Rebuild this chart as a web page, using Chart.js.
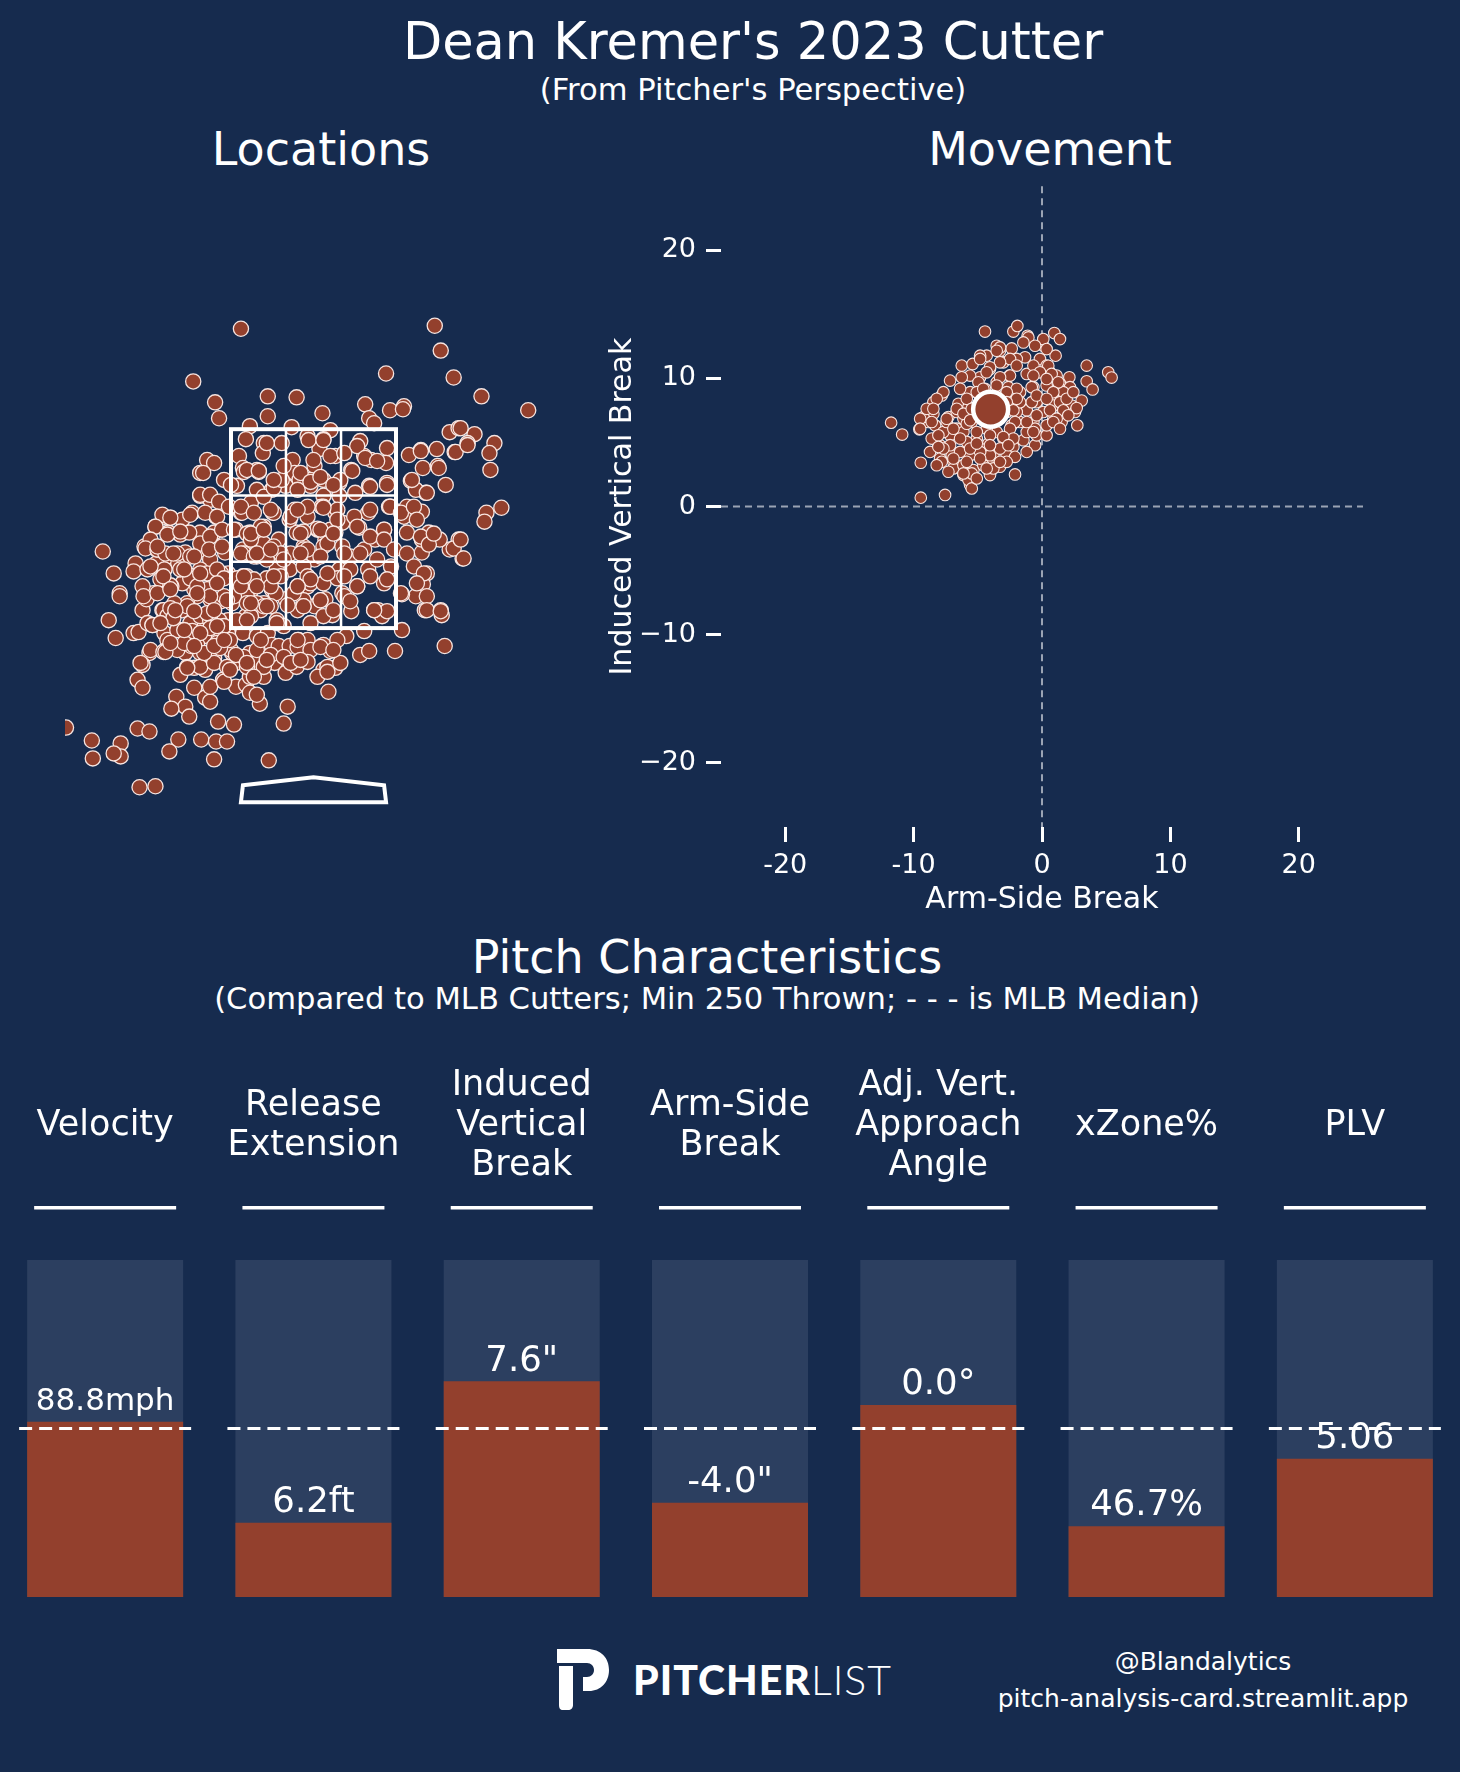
<!DOCTYPE html>
<html>
<head>
<meta charset="utf-8">
<script src="https://cdn.jsdelivr.net/npm/chart.js@4.4.0/dist/chart.umd.min.js"></script>
<style>
  html, body { margin: 0; padding: 0; background: #162b4e; }
  body { width: 1460px; height: 1772px; position: relative; overflow: hidden; font-family: "DejaVu Sans", sans-serif; color: #fff; }
  .t { position: absolute; transform: translate(-50%, -50%); white-space: nowrap; line-height: 1; }
  canvas { position: absolute; }
</style>
</head>
<body>
<div class="t" style="left:753px;top:41px;font-size:51px">Dean Kremer's 2023 Cutter</div>
<div class="t" style="left:753px;top:90px;font-size:30.6px">(From Pitcher's Perspective)</div>
<div class="t" style="left:321px;top:149px;font-size:46px">Locations</div>
<div class="t" style="left:1050px;top:149px;font-size:46px">Movement</div>
<div class="t" style="left:707px;top:957px;font-size:46px">Pitch Characteristics</div>
<div class="t" style="left:707px;top:999px;font-size:30.6px">(Compared to MLB Cutters; Min 250 Thrown; - - - is MLB Median)</div>

<canvas id="loc" width="497" height="547" style="left:65px;top:280px"></canvas>
<canvas id="move" width="800" height="770" style="left:600px;top:160px"></canvas>
<canvas id="bars" width="1460" height="580" style="left:0;top:1040px"></canvas>

<svg style="position:absolute;left:554px;top:1648px" width="56" height="62" viewBox="0 0 56 62">
  <path fill="#fff" d="M3,1 H33 C47,1 55,10 55,22 C55,34 47,43 35,43 H29 V29 H33 C37,29 40,26 40,22 C40,18 37,15 33,15 H3 Z"/>
  <path fill="#fff" d="M5,18 H19 V57 C19,60 17,62 14,62 H9 C6,62 5,60 5,57 Z"/>
</svg>
<div style="position:absolute;left:633px;top:1679px;transform:translateY(-50%);font-family:Lato,'Open Sans',sans-serif;font-size:41px;letter-spacing:1px;line-height:1;white-space:nowrap"><span style="font-weight:900">PITCHER</span><span style="font-weight:300">LIST</span></div>
<div class="t" style="left:1203px;top:1661px;font-size:25px">@Blandalytics</div>
<div class="t" style="left:1203px;top:1698px;font-size:25px">pitch-analysis-card.streamlit.app</div>

<script>
// pitch locations, feet (x: horizontal from pitcher's view, y: height)
const locPitches = [
  [-0.73,4.51],[1.22,4.54],[1.28,4.29],[0.73,4.06],[1.41,4.02],[-1.21,3.98],[1.69,3.83],[2.16,3.69],[-0.99,3.77],[-0.95,3.61],
  [-0.46,3.83],[-0.17,3.82],[-0.46,3.63],[0.09,3.66],[0.52,3.75],[0.56,3.61],[0.61,3.56],[0.77,3.69],[0.91,3.73],[0.90,3.70],
  [-0.64,3.53],[-0.22,3.52],[0.17,3.49],
  [1.37,3.47],[1.46,3.51],[1.62,3.45],[1.55,3.36],[1.82,3.36],[1.77,3.26],[1.78,3.09],[1.42,3.27],[1.24,3.30],[1.08,3.29],
  [1.10,3.11],[1.25,3.13],[1.33,2.94],[0.96,3.24],[0.98,2.98],[1.13,2.86],[1.03,2.89],[0.94,2.72],[1.09,2.67],[1.74,2.66],
  [1.89,2.71],[1.72,2.57],[1.46,2.39],[1.37,2.29],[1.50,2.20],[1.16,2.46],[1.27,2.39],[1.09,2.26],[1.14,2.05],[1.10,1.94],
  [1.03,1.82],[0.89,1.84],[1.12,1.68],[1.28,1.68],[1.29,1.63],[0.89,1.48],[0.82,1.27],[1.32,1.32],[0.91,2.62],[0.78,2.72],
  [0.94,2.46],[1.09,2.39],
  [-2.12,2.27],[-2.01,2.05],[-1.95,1.85],[-1.95,1.82],[-2.06,1.58],[-1.99,1.40],[-1.81,1.45],[-1.76,1.46],[-1.72,1.68],
  [-1.67,1.55],[-1.61,1.85],[-1.59,2.52],[-1.70,2.32],[-1.50,2.62],[-1.44,2.61],[-1.46,2.46],[-1.34,2.44],[-1.47,2.22],
  [-1.58,2.15],[-1.79,2.15],[-1.81,2.07],[-1.68,1.79],[-1.52,1.68],[-1.43,1.62],[-1.32,1.68],[-1.22,2.66],[-1.14,2.83],
  [-1.14,3.06],[-1.07,3.19],[-1.00,3.16],[-1.13,2.29],[-1.20,1.89],[-1.00,1.95],[-1.07,1.89],[-1.34,1.48],[-1.22,1.45],
  [-1.50,1.45],[-1.47,1.38],[-1.65,1.25],[-1.72,1.13],[-1.77,0.98],[-1.72,0.90],[-1.50,1.27],[-1.29,1.25],[-1.23,1.32],
  [-1.14,1.25],[-1.04,1.45],[-0.93,1.42],[-1.34,1.03],[-1.20,1.10],[-1.09,1.08],[-1.00,1.20],[-0.91,0.98],[-0.78,0.91],
  [-0.68,0.93],[-0.60,1.11],[-0.54,0.74],[-0.64,0.85],[-1.20,0.90],[-1.09,0.80],[-1.04,0.76],[-1.38,0.81],[-1.29,0.71],
  [-1.43,0.69],[-1.25,0.61],[-0.26,0.71],[-0.30,0.54],[-0.96,0.56],[-0.80,0.53],[-1.77,0.49],[-1.65,0.46],[-1.36,0.38],
  [-1.13,0.38],[-0.98,0.36],[-0.87,0.36],[-1.45,0.26],[-2.23,0.37],[-2.22,0.19],[-1.94,0.34],[-1.94,0.21],[-2.01,0.24],
  [-1.00,0.18],[-0.45,0.17],[-1.75,-0.10],[-1.59,-0.09],[-2.49,0.50],
  [-0.86,1.45],[-0.71,1.45],[-0.57,1.42],[-0.46,1.45],[-0.42,1.33],[-0.35,1.32],[-0.24,1.32],[-0.14,1.18],[-0.15,1.38],
  [-0.06,1.38],[0.08,1.32],[0.17,1.27],[0.10,1.08],[0.22,1.10],[0.04,1.01],[0.15,0.86],[0.47,1.23],[0.56,1.27],[0.33,1.42],
  [0.51,1.47],[-0.82,1.25],[-0.78,1.15],[-0.64,1.25],[-0.57,1.15],[-0.39,1.15],[-0.28,1.05],[-0.50,1.01],[-0.17,1.11],
  [-0.64,1.01],[-0.98,1.38],[-0.93,1.32],
  [-0.75,3.23],[-0.68,3.40],[-0.71,3.11],[-0.57,3.09],[-0.50,3.36],[-0.51,3.26],[-0.32,3.36],[-0.21,3.19],[-0.19,3.06],
  [-0.06,3.43],[0.01,3.13],[0.10,3.40],[0.06,3.30],[-0.03,2.93],[-0.14,2.99],[-0.28,2.93],[-0.42,2.89],[-0.57,2.89],
  [-0.77,2.93],[0.22,3.23],[0.26,2.96],[0.38,3.09],[0.47,3.38],[0.51,3.23],[0.58,3.19],[0.56,2.93],[0.74,3.31],[0.73,3.16],
  [0.74,2.96],[0.42,2.86],[0.26,2.83],[0.10,2.83],[0.44,3.33],
  [-0.73,2.66],[-0.64,2.46],[-0.50,2.52],[-0.41,2.66],[-0.57,2.36],[-0.71,2.29],[-0.50,2.22],[-0.28,2.22],[-0.17,2.46],
  [-0.10,2.32],[0.04,2.49],[0.08,2.72],[0.22,2.66],[0.29,2.56],[0.46,2.51],[0.55,2.66],[0.62,2.39],[0.71,2.49],[0.76,2.72],
  [0.51,2.29],[0.37,2.22],[0.01,2.19],[-0.06,2.62],[-0.19,2.69],[0.12,2.39],[0.22,2.46],[0.29,2.32],[-0.24,2.59],[-0.35,2.39],
  [-0.78,2.49],[-0.64,2.69],
  [-0.71,2.02],[-0.64,1.85],[-0.59,1.94],[-0.42,1.89],[-0.44,1.73],[-0.68,1.62],[-0.53,1.68],[-0.28,1.79],[-0.24,2.09],
  [-0.10,2.12],[-0.06,1.92],[0.01,1.72],[-0.03,1.95],[0.12,1.79],[0.19,1.63],[0.29,1.85],[0.38,1.67],[0.44,1.92],[0.55,2.09],
  [0.65,1.68],[0.71,1.95],[0.78,2.12],[0.69,1.62],[0.15,2.05],[0.26,2.09],[0.37,2.09],[-0.82,1.75],[-0.86,2.05],[-0.86,1.58],
  [-1.04,2.79],[-0.98,2.62],[-1.14,2.46],[-1.00,2.46],[-0.89,2.26],[-1.04,2.19],[-1.14,2.09],[-0.93,2.05],[-1.04,1.79],
  [-0.93,1.77],[-1.11,1.58],[-0.95,1.58],[-1.22,2.02],[-1.29,2.26],[-1.36,2.15],[-1.32,1.95],[-1.43,1.92],[-1.52,1.99],
  [-1.58,2.29],[-1.50,2.09],[-1.72,1.92],[-1.67,2.09],[-1.32,2.59],[-1.25,2.46],
  // left half of the main band
  [-1.11,3.06],[-0.90,2.99],[-0.83,2.94],[-0.70,3.07],[-0.55,3.07],[-1.14,2.84],[-1.04,2.84],[-0.95,2.77],[-1.24,2.64],
  [-1.09,2.66],[-0.97,2.62],[-0.85,2.72],[-0.72,2.66],[-0.63,2.76],[-0.50,2.82],[-0.40,2.91],[-0.32,2.99],[-1.52,2.64],
  [-1.44,2.61],[-1.59,2.52],[-1.47,2.44],[-1.34,2.47],[-1.64,2.39],[-1.69,2.30],[-1.57,2.29],[-1.49,2.25],[-1.37,2.25],
  [-1.24,2.22],[-1.14,2.35],[-1.04,2.42],[-0.92,2.49],[-0.80,2.49],[-0.67,2.45],[-0.53,2.52],[-0.40,2.66],[-0.50,2.35],
  [-0.63,2.39],[-0.70,2.25],[-0.57,2.22],[-0.43,2.22],
  [-1.64,2.12],[-1.54,1.99],[-1.44,1.93],[-1.34,2.09],[-1.24,2.00],[-1.17,1.92],[-1.07,2.05],[-0.97,2.09],[-0.90,2.00],
  [-0.77,2.00],[-0.67,2.02],[-0.60,1.93],[-0.47,2.00],[-0.37,2.09],[-0.38,1.85],[-0.50,1.75],[-0.67,1.82],[-0.80,1.82],
  [-0.90,1.82],[-1.04,1.82],[-1.17,1.82],[-1.27,1.75],[-1.40,1.75],[-1.51,1.68],[-1.71,1.82],
  [-1.62,1.53],[-1.47,1.62],[-1.37,1.48],[-1.24,1.55],[-1.14,1.62],[-1.04,1.58],[-0.90,1.52],[-0.77,1.58],[-0.63,1.62],
  [-0.57,1.75],[-0.43,1.72],[-0.37,1.58],[-0.30,1.52],[-0.16,1.68],[-0.10,1.78],[0.07,1.78],[0.10,1.62],[-0.03,1.55],
  [-0.20,1.85],[-0.06,2.02],[0.10,1.95],[0.24,2.00],[0.31,1.82],[-0.23,2.25],[-0.10,2.29],[0.10,2.32],[0.17,2.49],
  [0.04,2.50],[-0.10,2.47],[-0.23,2.62],[-0.06,2.72],[0.10,2.72],[0.24,2.69],[-0.16,2.89],[-0.03,2.99],[0.10,2.99],[0.27,2.99],
  [-1.64,1.28],[-1.51,1.26],[-1.37,1.28],[-1.24,1.38],[-1.10,1.42],[-0.97,1.35],[-0.83,1.28],[-0.70,1.21],[-0.57,1.28],
  [-0.43,1.23],[-0.30,1.21],[-0.16,1.31],[-0.03,1.28],[0.10,1.33],[0.24,1.38],[-1.74,1.15],[-1.27,1.11],[-1.14,1.11],
  [-1.00,1.15],[-0.87,1.11],[-0.67,1.11],[-0.50,1.11],[-0.23,1.15],[-0.06,1.16],[0.14,1.11],[0.27,1.15],
  // zone and right side
  [-0.47,3.36],[-0.67,3.09],[-0.55,3.08],[-0.30,3.13],[-0.05,3.39],[0.10,3.39],[0.00,3.19],[0.17,3.23],[0.31,3.26],[0.52,3.21],
  [0.64,3.18],[0.39,3.08],[-0.40,2.99],[-0.13,3.06],[-0.03,2.97],[0.07,3.02],[0.20,2.94],[0.57,2.92],[0.74,2.94],[1.08,3.28],
  [1.26,3.11],[0.99,2.99],[1.14,2.86],[1.48,3.51],[1.43,3.27],[1.55,3.34],
  [-0.73,2.72],[-0.60,2.66],[-0.43,2.69],[-0.16,2.69],[0.10,2.71],[0.24,2.59],[0.41,2.62],[0.57,2.69],[0.77,2.72],[0.88,2.66],
  [1.01,2.72],[1.04,2.59],
  [-0.63,2.45],[-0.50,2.49],[-0.40,2.32],[-0.13,2.45],[0.07,2.49],[0.14,2.35],[0.20,2.45],[0.44,2.52],[0.57,2.42],[0.71,2.49],
  [0.71,2.39],[0.81,2.29],[0.94,2.25],[1.08,2.42],[1.16,2.34],[1.21,2.45],[1.41,2.30],[1.48,2.39],[1.51,2.20],
  [-0.73,2.25],[-0.60,2.22],[-0.47,2.19],[-0.33,2.25],[-0.06,2.29],[0.07,2.22],[0.31,2.25],[0.47,2.25],[0.64,2.19],[1.01,2.12],
  [1.11,2.05],[1.04,1.95],[1.14,1.82],[0.88,1.85],[0.74,1.99],[0.57,2.02],[0.44,1.92],[0.31,2.02],[0.14,2.05],[-0.03,1.99],
  [-0.16,1.92],[-0.33,2.02],[-0.43,1.92],[-0.60,1.99],[-0.73,1.92],
  [-0.67,1.75],[-0.50,1.72],[-0.26,1.73],[-0.10,1.72],[0.07,1.78],[0.20,1.68],[0.37,1.77],[0.61,1.68],[0.74,1.67],[1.14,1.68],
  [1.28,1.67],
  // lower left
  [-1.44,1.70],[-1.27,1.72],[-1.07,1.65],[-1.41,1.60],[-1.62,1.53],[-1.22,1.47],[-1.04,1.50],[-1.49,1.26],[-1.30,1.35],
  [-1.17,1.33],[-1.10,1.25],[-0.94,1.30],[-0.84,1.38],[-0.78,1.23],[-1.27,1.10],[-1.04,0.91],[-0.90,0.96],[-0.84,1.08],
  [-0.67,1.15],[-0.60,1.01],[-0.57,0.83],[-0.47,1.18],[-0.13,1.18],[0.07,1.31],[0.20,1.28],[0.14,1.06],[0.61,1.68],
  // densest patch, left of and inside the lower zone
  [-1.57,2.32],[-1.41,2.25],[-1.20,2.22],[-1.05,2.29],[-0.92,2.32],[-1.14,2.05],[-1.30,2.09],[-1.51,2.02],[-1.57,1.85],
  [-1.44,1.89],[-1.17,1.85],[-0.97,1.95],[-0.87,1.78],[-1.00,1.68],[-1.20,1.67],[-1.39,1.68],[-1.54,1.55],[-1.30,1.48],
  [-1.14,1.45],[-0.97,1.52],[-1.44,1.35],[-1.20,1.32],[-1.00,1.32],[-0.90,1.38],[-0.57,2.25],[-0.43,2.29],[-0.30,2.19],
  [-0.70,2.02],[-0.57,1.92],[-0.40,2.02],[-0.63,1.75],[-0.47,1.72],[-0.67,1.58],[-0.37,1.55],[-0.16,1.38],[-0.53,1.38],
  [-0.16,1.92],[-0.13,2.25],[-0.10,1.72]
];

// strike zone (feet) and home plate outline
const zoneX = [-0.83, -0.277, 0.277, 0.83];
const zoneY = [1.5, 2.167, 2.833, 3.5];
const plateShape = [[-0.71,-0.08],[0,0],[0.71,-0.08],[0.73,-0.25],[-0.73,-0.25]];

// movement, inches: [arm-side break, induced vertical break]
const movePitches = [
  [-11.75,6.55],[-10.89,5.62],[-9.44,0.70],[-7.55,0.91],[-9.44,3.42],[-9.55,6.03],[-2.10,2.51],[-4.44,13.66],[-2.23,13.66],
  [-1.92,14.10],[0.96,13.54],[1.40,13.07],[3.48,11.00],[5.16,10.48],[5.42,10.07],[3.48,9.78],[3.94,9.14],[2.75,6.34],
  [3.09,8.28],[2.13,10.09],[-1.12,13.33],[0.10,12.55],[1.06,11.78],
  [-6.25,11.00],[-5.40,11.13],[-4.31,11.78],[-3.53,12.55],[-2.36,12.34],[-1.32,11.65],[-0.73,10.35],[-2.54,10.22],
  [-4.05,10.74],[-4.82,10.09],[-5.60,10.22],[-7.16,9.83],[-7.81,8.67],[-8.46,8.15],[-8.46,7.25],[-8.33,6.34],[-7.94,4.79],
  [-8.07,4.66],[-7.03,4.01],[-6.38,2.98],[-6.12,2.46],[-5.60,1.68],[-5.73,2.07],[-4.82,3.88],[-4.05,3.36],[-3.27,3.11],
  [-3.01,5.31],[-2.23,4.66],[-1.45,5.18],[-0.54,4.79],[-0.42,5.56],[0.36,5.56],[-1.19,7.51],[-0.42,8.15],[0.10,7.38],
  [0.75,8.54],[1.40,8.93],[2.05,9.19],[1.61,7.51],[2.31,7.89],[2.57,7.38],[0.88,6.86],[0.36,9.45],[-0.67,9.32],[-1.71,8.93],
  [-2.02,8.28],[-2.62,9.32],[-3.53,9.71],[-4.44,9.19],[-5.60,8.93],[-6.51,8.02],[-7.29,6.99],[-6.64,6.08],[-7.16,5.56],
  [-6.12,5.82],[-5.47,6.60],[-5.08,5.31],[-4.18,4.92],[-3.53,5.82],[-2.36,6.34],[-1.71,6.60],[-0.67,6.60],[-1.19,5.82],
  [-4.82,4.53],[-5.60,4.01],[-6.38,4.27],[-7.16,4.79],[-7.68,5.82],[-6.64,7.38],[-5.73,7.76],[-4.82,8.28],[-2.49,8.02],
  [-1.19,10.35],[-1.97,11.52],[-3.01,11.26],[-4.82,11.78],[-3.27,12.16],[-0.16,11.52],[0.62,10.48],[1.14,10.22],[1.40,9.58],
  [0.36,11.00],[-0.80,8.15],[0.88,7.89],[0.36,6.34],[1.53,6.60],[-1.19,4.27],[-2.75,4.01],[-4.05,2.46],[-5.47,1.42],
  [-7.94,3.75],[-8.72,4.27],[-8.59,5.31],[-8.85,6.60],[-9.24,6.99],[-8.98,7.63],
  [-7.42,6.60],[-6.12,6.86],[-5.08,7.12],[-5.86,5.05],[-3.79,4.01],[-6.90,3.49],[-4.31,6.08],[-2.75,7.38],[-3.53,8.67],
  [-1.97,7.38],
  [-1.06,13.20],[0.10,13.07],[0.36,12.29],[-0.54,12.55],[-1.45,12.81],[-3.27,12.42],[-3.53,12.16],[-2.49,11.52],[-3.27,11.26],
  [-4.82,11.52],[-4.05,10.87],[-1.97,11.00],[-0.67,11.00],[0.49,10.99],[-0.16,10.48],[0.75,10.35],[2.70,7.69],[2.18,9.32],
  [1.66,8.93],[1.27,9.70],[1.40,8.15],[1.66,7.51],[0.88,8.93],[0.36,9.96],[-0.67,10.22],[-0.80,9.32],[-0.42,8.67],[0.36,8.41],
  [0.62,7.51],[1.14,6.86],[0.88,6.60],[-0.54,6.08],[-0.42,7.12],[-1.19,6.60],[-1.71,8.15],[-1.97,9.19],[-2.49,10.22],
  [-3.27,10.09],[-4.31,10.48],[-4.95,9.70],[-6.25,10.09],[-7.68,8.93],[-8.20,8.41],[-8.46,7.63],[-8.59,6.60],[-9.49,6.86],
  [-9.49,6.08],[-8.07,5.56],[-7.68,4.53],[-7.81,3.49],[-6.90,2.98],[-6.12,3.23],[-5.34,2.85],[-4.57,3.23],[-4.05,4.01],
  [-3.79,2.98],[-3.27,4.53],[-4.82,4.27],[-5.60,4.53],[-6.38,5.31],[-6.90,6.08],[-7.42,6.86],[-6.64,7.63],[-5.86,8.41],
  [-6.38,9.19],[-5.08,8.93],[-4.57,9.19],[-3.53,9.45],[-2.75,8.93],[-1.97,8.41],[-2.75,8.15],[-2.23,7.51],[-2.10,6.60],
  [-2.49,6.08],[-2.23,5.31],[-3.01,5.43],[-4.05,5.56],[-5.08,5.82],[-5.86,6.47],[-6.12,7.25],[-5.47,7.63],[-5.60,6.73],
  [-5.08,4.92],[-4.05,4.79],[-2.62,4.79],[-0.67,5.82],[-2.10,3.88],[-2.75,3.49],[-3.27,3.49],[-4.82,3.75],[-5.86,3.49],
  [-6.90,3.75],[-8.07,4.66],[-8.20,3.23],[-7.29,2.72],[-5.47,2.59],[-4.31,2.98],[-5.08,2.20],[-6.12,2.59],[1.92,8.41],
  [2.44,8.93],[2.05,7.12],[1.40,6.08]
];
const moveAvg = [-4.0, 7.6];
const moveTicks = [-20, -10, 0, 10, 20];

// pitch characteristics, as MLB percentiles
const metricNames = ['Velocity', 'Release\nExtension', 'Induced\nVertical\nBreak', 'Arm-Side\nBreak',
  'Adj. Vert.\nApproach\nAngle', 'xZone%', 'PLV'];
const metricPercentiles = [52, 22, 64, 28, 57, 21, 41];
const metricLabels = ['88.8mph', '6.2ft', '7.6"', '-4.0"', '0.0°', '46.7%', '5.06'];
const fullBar = [100, 100, 100, 100, 100, 100, 100];
const medianPct = 50;

const RED = '#93402d';
const EDGE = 'rgba(255,238,234,0.95)';
Chart.defaults.font.family = '"DejaVu Sans", sans-serif';
Chart.defaults.color = '#fff';

// ---- locations ----
const zonePlugin = {
  id: 'zone',
  afterDatasetsDraw(chart) {
    const { ctx, scales: { x, y } } = chart;
    ctx.save();
    ctx.strokeStyle = '#fff';
    // inner grid
    ctx.lineWidth = 2.5;
    ctx.beginPath();
    [zoneX[1], zoneX[2]].forEach(v => {
      ctx.moveTo(x.getPixelForValue(v), y.getPixelForValue(zoneY[0]));
      ctx.lineTo(x.getPixelForValue(v), y.getPixelForValue(zoneY[3]));
    });
    [zoneY[1], zoneY[2]].forEach(v => {
      ctx.moveTo(x.getPixelForValue(zoneX[0]), y.getPixelForValue(v));
      ctx.lineTo(x.getPixelForValue(zoneX[3]), y.getPixelForValue(v));
    });
    ctx.stroke();
    // outer box
    ctx.lineWidth = 4;
    const l = x.getPixelForValue(zoneX[0]), r = x.getPixelForValue(zoneX[3]);
    const t = y.getPixelForValue(zoneY[3]), b = y.getPixelForValue(zoneY[0]);
    ctx.strokeRect(l, t, r - l, b - t);
    // plate
    ctx.beginPath();
    plateShape.forEach((p, i) => {
      const px = x.getPixelForValue(p[0]), py = y.getPixelForValue(p[1]);
      if (i === 0) ctx.moveTo(px, py); else ctx.lineTo(px, py);
    });
    ctx.closePath();
    ctx.stroke();
    ctx.restore();
  }
};

new Chart(document.getElementById('loc'), {
  type: 'scatter',
  data: {
    datasets: [{
      data: locPitches.map(p => ({ x: p[0], y: p[1] })),
      backgroundColor: RED,
      borderColor: EDGE,
      borderWidth: 1.3,
      pointRadius: 7.6,
      clip: 0
    }]
  },
  options: {
    responsive: false,
    animation: false,
    events: [],
    layout: { padding: 0, autoPadding: false },
    scales: {
      x: { display: false, min: -2.5, max: 2.5 },
      y: { display: false, min: -0.5, max: 5.0 }
    },
    plugins: { legend: { display: false }, tooltip: { enabled: false } }
  },
  plugins: [zonePlugin]
});

// ---- movement ----
const zeroLines = {
  id: 'zeroLines',
  beforeDatasetsDraw(chart) {
    const { ctx, chartArea: a, scales: { x, y } } = chart;
    ctx.save();
    ctx.strokeStyle = 'rgba(200,205,215,0.75)';
    ctx.lineWidth = 2;
    ctx.setLineDash([7, 5]);
    ctx.beginPath();
    ctx.moveTo(x.getPixelForValue(0), a.top);
    ctx.lineTo(x.getPixelForValue(0), a.bottom);
    ctx.moveTo(a.left, y.getPixelForValue(0));
    ctx.lineTo(a.right, y.getPixelForValue(0));
    ctx.stroke();
    ctx.restore();
  }
};

const tickGrid = { display: true, drawOnChartArea: false, drawTicks: true, tickLength: 15, tickWidth: 3, tickColor: '#fff' };

new Chart(document.getElementById('move'), {
  type: 'scatter',
  data: {
    datasets: [
      {
        data: [{ x: moveAvg[0], y: moveAvg[1] }],
        backgroundColor: RED,
        borderColor: '#fff',
        borderWidth: 4.5,
        pointRadius: 17.5,
        order: 0
      },
      {
        data: movePitches.map(p => ({ x: p[0], y: p[1] })),
        backgroundColor: RED,
        borderColor: EDGE,
        borderWidth: 1.1,
        pointRadius: 5.8,
        order: 1
      }
    ]
  },
  options: {
    responsive: false,
    animation: false,
    events: [],
    layout: { padding: { top: 23, right: 37, left: 0, bottom: 0 }, autoPadding: false },
    scales: {
      x: {
        min: -25, max: 25,
        afterBuildTicks(s) { s.ticks = moveTicks.map(v => ({ value: v })); },
        afterFit(s) { s.height = 103; },
        grid: tickGrid,
        border: { display: false },
        ticks: { color: '#fff', font: { size: 27 }, padding: 8, maxRotation: 0 },
        title: { display: true, text: 'Arm-Side Break', color: '#fff', font: { size: 30 }, padding: { top: 0, bottom: 12 } }
      },
      y: {
        min: -25, max: 25,
        afterBuildTicks(s) { s.ticks = moveTicks.map(v => ({ value: v })); },
        afterFit(s) { s.width = 121; },
        grid: tickGrid,
        border: { display: false },
        ticks: { color: '#fff', font: { size: 27 }, padding: 10, callback: v => String(v).replace('-', '\u2212') },
        title: { display: true, text: 'Induced Vertical Break', color: '#fff', font: { size: 30 }, padding: { top: 5, bottom: 0 } }
      }
    },
    plugins: { legend: { display: false }, tooltip: { enabled: false } }
  },
  plugins: [zeroLines]
});

// ---- pitch characteristics ----
const barDecor = {
  id: 'barDecor',
  afterDatasetsDraw(chart) {
    const { ctx, scales: { x, y } } = chart;
    ctx.save();
    ctx.fillStyle = '#fff';
    ctx.strokeStyle = '#fff';
    ctx.textAlign = 'center';
    ctx.textBaseline = 'middle';
    metricNames.forEach((name, i) => {
      const cx = x.getPixelForValue(i);
      // header text
      ctx.font = '35px "DejaVu Sans"';
      const lines = name.split('\n');
      lines.forEach((ln, j) => ctx.fillText(ln, cx, 85.5 + (j - (lines.length - 1) / 2) * 40));
      // underline
      ctx.fillRect(cx - 71, 166, 142, 3.5);
      // median line
      const my = y.getPixelForValue(medianPct);
      ctx.lineWidth = 3;
      ctx.setLineDash([13, 7]);
      ctx.beginPath();
      ctx.moveTo(cx - 86, my);
      ctx.lineTo(cx + 86, my);
      ctx.stroke();
      ctx.setLineDash([]);
      // value label
      ctx.font = '35.5px "DejaVu Sans"';
      if (ctx.measureText(metricLabels[i]).width > 150) ctx.font = '31px "DejaVu Sans"';
      ctx.fillText(metricLabels[i], cx, y.getPixelForValue(metricPercentiles[i]) - 20);
    });
    ctx.restore();
  }
};

new Chart(document.getElementById('bars'), {
  type: 'bar',
  data: {
    labels: metricNames,
    datasets: [
      { data: metricPercentiles, backgroundColor: RED, grouped: false, order: 0, barPercentage: 0.749, categoryPercentage: 1 },
      { data: fullBar, backgroundColor: '#2c3f60', grouped: false, order: 1, barPercentage: 0.749, categoryPercentage: 1 }
    ]
  },
  options: {
    responsive: false,
    animation: false,
    events: [],
    layout: { padding: { left: 1, right: 1, top: 220, bottom: 23 }, autoPadding: false },
    scales: {
      x: { display: false },
      y: { display: false, min: 0, max: 100 }
    },
    plugins: { legend: { display: false }, tooltip: { enabled: false } }
  },
  plugins: [barDecor]
});
</script>
</body>
</html>
